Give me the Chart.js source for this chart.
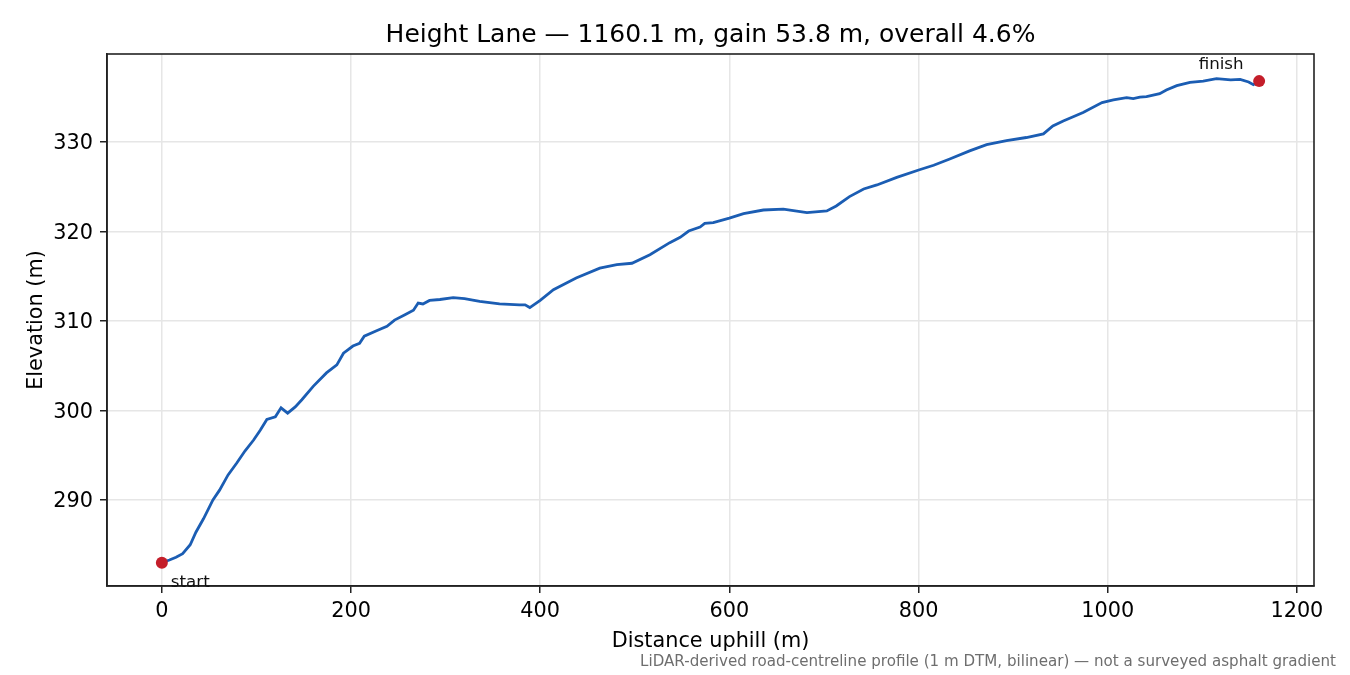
<!DOCTYPE html>
<html>
<head>
<meta charset="utf-8">
<title>Height Lane profile</title>
<script src="https://cdn.jsdelivr.net/npm/chart.js@4.4.1/dist/chart.umd.min.js"></script>
<style>
  body { margin: 0; background: #fff; }
  canvas { display: block; }
</style>
</head>
<body>
<canvas id="profile" width="1350" height="675"></canvas>
<script>
// profile
const distance = [0, 8, 15, 22, 30, 36, 44, 54, 61, 70, 79, 88, 97, 104, 111, 120, 126, 133, 141, 148,
  160, 174, 185, 192, 197, 202, 209, 214, 227, 238, 246, 257, 266, 271, 276, 283, 294, 308, 320, 336,
  357, 378, 384, 389, 400, 414, 438, 463, 481, 497, 516, 537, 548, 557, 569, 574, 583, 600, 615, 636,
  657, 682, 703, 713, 727, 742, 756, 777, 801, 816, 833, 854, 872, 893, 914, 932, 942, 953, 974, 994,
  1006, 1020, 1027, 1034, 1041, 1055, 1062, 1073, 1087, 1101, 1115, 1130, 1140, 1149, 1154, 1160.1];
const elevation = [283.0, 283.3, 283.6, 284.0, 285.0, 286.4, 287.9, 290.0, 291.1, 292.8, 294.1, 295.5, 296.7, 297.8, 299.0, 299.3, 300.3, 299.7, 300.4, 301.2,
  302.7, 304.2, 305.1, 306.4, 306.8, 307.2, 307.5, 308.3, 308.9, 309.4, 310.1, 310.7, 311.2, 312.0, 311.9, 312.3, 312.4, 312.6, 312.5, 312.2,
  311.9, 311.8, 311.8, 311.5, 312.3, 313.5, 314.8, 315.9, 316.3, 316.45, 317.4, 318.75, 319.35, 320.05, 320.5, 320.9, 321.0, 321.5, 322.0, 322.4,
  322.5, 322.1, 322.3, 322.85, 323.9, 324.75, 325.2, 326.05, 326.9, 327.4, 328.1, 329.0, 329.7, 330.15, 330.5, 330.9, 331.8, 332.35, 333.3, 334.4,
  334.7, 334.95, 334.85, 335.0, 335.06, 335.4, 335.8, 336.3, 336.67, 336.8, 337.07, 336.95, 337.0, 336.7, 336.4, 336.8];

const xTicks = [0, 200, 400, 600, 800, 1000, 1200];
const yTicks = [290, 300, 310, 320, 330];

const titleText = 'Height Lane \u2014 1160.1 m, gain 53.8 m, overall 4.6%';
const noteText = 'LiDAR-derived road-centreline profile (1 m DTM, bilinear) \u2014 not a surveyed asphalt gradient';

const profilePoints = distance.map((d, i) => ({x: d, y: elevation[i]}));
const last = distance.length - 1;
const endPoints = [
  {x: distance[0], y: elevation[0]},
  {x: distance[last], y: elevation[last]}
];

Chart.defaults.font.family = 'DejaVu Sans';
Chart.defaults.color = '#000';

// frame, title, labels and notes drawn on top of the chart
const extras = {
  id: 'extras',
  afterDraw(chart) {
    const ctx = chart.ctx;
    const a = chart.chartArea;
    const xs = chart.scales.x, ys = chart.scales.y;
    ctx.save();
    ctx.strokeStyle = '#222';
    ctx.lineWidth = 1.6;
    ctx.strokeRect(a.left, a.top, a.right - a.left, a.bottom - a.top);

    ctx.fillStyle = '#000';
    ctx.textBaseline = 'alphabetic';
    ctx.textAlign = 'center';
    ctx.font = '25px "DejaVu Sans"';
    ctx.fillText(titleText, (a.left + a.right) / 2, 42);

    ctx.font = '20.8px "DejaVu Sans"';
    ctx.fillText('Distance uphill (m)', (a.left + a.right) / 2, 646.5);
    ctx.save();
    ctx.translate(41.5, (a.top + a.bottom) / 2);
    ctx.rotate(-Math.PI / 2);
    ctx.fillText('Elevation (m)', 0, 0);
    ctx.restore();

    // point annotations
    ctx.font = '16.7px "DejaVu Sans"';
    ctx.fillStyle = '#111';
    const sx = xs.getPixelForValue(endPoints[0].x), sy = ys.getPixelForValue(endPoints[0].y);
    ctx.textAlign = 'left';
    ctx.fillText('start', sx + 9, sy + 24);
    const fx = xs.getPixelForValue(endPoints[1].x), fy = ys.getPixelForValue(endPoints[1].y);
    ctx.textAlign = 'center';
    ctx.fillText('finish', fx - 38, fy - 12);

    ctx.font = '15.1px "DejaVu Sans"';
    ctx.fillStyle = '#6e6e6e';
    ctx.textAlign = 'right';
    ctx.fillText(noteText, 1336, 665.5);
    ctx.restore();
  }
};

new Chart(document.getElementById('profile'), {
  type: 'scatter',
  data: {
    datasets: [{
      data: profilePoints,
      showLine: true,
      borderColor: '#1b5db3',
      borderWidth: 2.8,
      pointRadius: 0,
      tension: 0,
      order: 2
    }, {
      data: endPoints,
      showLine: false,
      pointRadius: 6,
      pointBackgroundColor: '#c41e2a',
      pointBorderColor: '#c41e2a',
      pointBorderWidth: 0,
      order: 1
    }]
  },
  options: {
    responsive: false,
    animation: false,
    layout: { padding: { top: 54, right: 36, left: 0, bottom: 0 } },
    plugins: {
      legend: { display: false },
      tooltip: { enabled: false },
      title: { display: false }
    },
    scales: {
      x: {
        type: 'linear',
        min: -58.0,
        max: 1218.1,
        afterFit(scale) { scale.height = 89; },
        afterBuildTicks(scale) { scale.ticks = xTicks.map(v => ({value: v})); },
        ticks: { font: { size: 20.8 }, color: '#000', padding: 6, maxRotation: 0, callback: v => String(v) },
        grid: { color: '#e6e6e6', lineWidth: 1.5, tickColor: '#222', tickLength: 7, tickWidth: 1.5 },
        border: { display: true, color: '#222', width: 1.6 }
      },
      y: {
        type: 'linear',
        min: 280.39,
        max: 339.83,
        afterFit(scale) { scale.width = 107; },
        afterBuildTicks(scale) { scale.ticks = yTicks.map(v => ({value: v})); },
        ticks: { font: { size: 20.8 }, color: '#000', padding: 7, labelOffset: 2, callback: v => String(v) },
        grid: { color: '#e6e6e6', lineWidth: 1.5, tickColor: '#222', tickLength: 7, tickWidth: 1.5 },
        border: { display: true, color: '#222', width: 1.6 }
      }
    }
  },
  plugins: [extras]
});
</script>
</body>
</html>
